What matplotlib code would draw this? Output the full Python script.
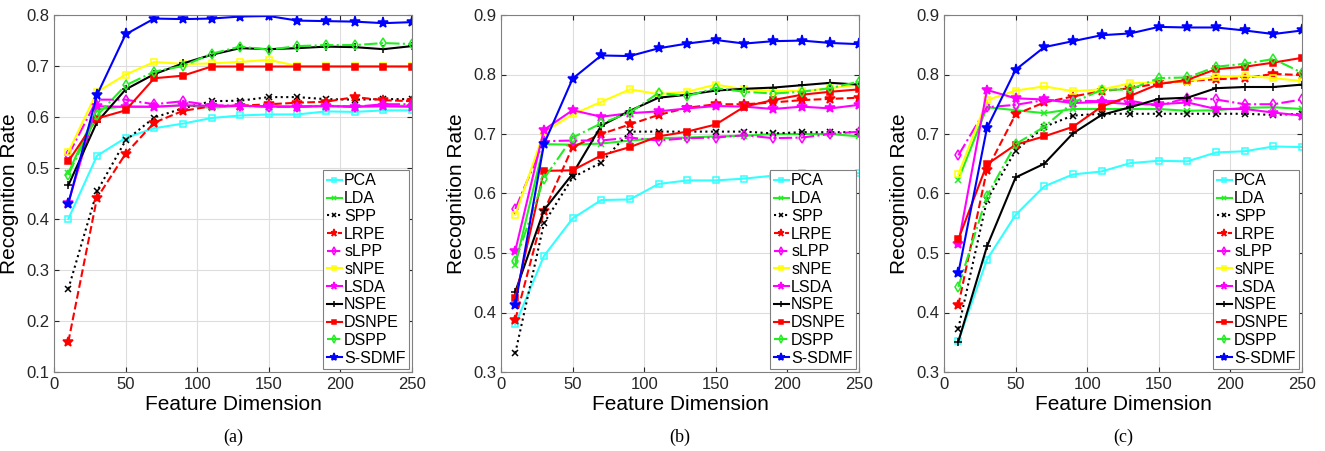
import matplotlib
matplotlib.use("Agg")
import matplotlib.pyplot as plt

plt.rcParams["font.family"] = ["Liberation Sans", "DejaVu Sans"]

dims = [10, 30, 50, 70, 90, 110, 130, 150, 170, 190, 210, 230, 250]
methods = ["PCA", "LDA", "SPP", "LRPE", "sLPP", "sNPE", "LSDA", "NSPE", "DSNPE", "DSPP", "S-SDMF"]

# (a)
a_pca   = [0.400, 0.524, 0.559, 0.578, 0.587, 0.598, 0.603, 0.605, 0.605, 0.611, 0.610, 0.613, 0.613]
a_lda   = [0.490, 0.615, 0.621, 0.620, 0.623, 0.618, 0.622, 0.620, 0.621, 0.622, 0.621, 0.622, 0.622]
a_spp   = [0.263, 0.454, 0.554, 0.599, 0.617, 0.631, 0.632, 0.639, 0.639, 0.635, 0.634, 0.635, 0.635]
a_lrpe  = [0.159, 0.441, 0.528, 0.589, 0.612, 0.621, 0.622, 0.625, 0.628, 0.630, 0.639, 0.633, 0.631]
a_slpp  = [0.525, 0.634, 0.634, 0.625, 0.631, 0.623, 0.622, 0.620, 0.620, 0.622, 0.620, 0.625, 0.625]
a_snpe  = [0.531, 0.649, 0.683, 0.708, 0.704, 0.705, 0.708, 0.712, 0.700, 0.700, 0.700, 0.700, 0.700]
a_lsda  = [0.432, 0.621, 0.620, 0.620, 0.623, 0.622, 0.622, 0.621, 0.620, 0.621, 0.620, 0.621, 0.620]
a_nspe  = [0.466, 0.590, 0.654, 0.684, 0.705, 0.722, 0.735, 0.733, 0.735, 0.738, 0.737, 0.733, 0.739]
a_dsnpe = [0.513, 0.597, 0.613, 0.676, 0.681, 0.699, 0.699, 0.699, 0.699, 0.699, 0.699, 0.699, 0.699]
a_dspp  = [0.487, 0.603, 0.662, 0.689, 0.700, 0.724, 0.738, 0.732, 0.739, 0.741, 0.741, 0.745, 0.743]
a_sdmf  = [0.430, 0.643, 0.762, 0.793, 0.792, 0.793, 0.797, 0.798, 0.789, 0.788, 0.787, 0.784, 0.786]

# (b)
b_pca   = [0.380, 0.495, 0.558, 0.589, 0.590, 0.616, 0.622, 0.622, 0.625, 0.630, 0.634, 0.633, 0.634]
b_lda   = [0.480, 0.683, 0.682, 0.684, 0.689, 0.693, 0.694, 0.696, 0.697, 0.700, 0.700, 0.700, 0.696]
b_spp   = [0.332, 0.550, 0.627, 0.652, 0.704, 0.704, 0.704, 0.704, 0.704, 0.701, 0.703, 0.703, 0.703]
b_lrpe  = [0.388, 0.570, 0.678, 0.700, 0.716, 0.732, 0.744, 0.750, 0.750, 0.753, 0.757, 0.759, 0.761]
b_slpp  = [0.574, 0.688, 0.689, 0.689, 0.694, 0.689, 0.693, 0.694, 0.698, 0.693, 0.694, 0.700, 0.704]
b_snpe  = [0.564, 0.703, 0.733, 0.754, 0.775, 0.767, 0.771, 0.783, 0.775, 0.773, 0.772, 0.777, 0.783]
b_lsda  = [0.504, 0.707, 0.740, 0.729, 0.735, 0.738, 0.743, 0.747, 0.746, 0.742, 0.746, 0.743, 0.749]
b_nspe  = [0.435, 0.572, 0.633, 0.714, 0.739, 0.761, 0.766, 0.773, 0.776, 0.778, 0.782, 0.786, 0.783]
b_dsnpe = [0.424, 0.638, 0.639, 0.664, 0.678, 0.696, 0.704, 0.716, 0.746, 0.757, 0.766, 0.771, 0.775]
b_dspp  = [0.486, 0.625, 0.694, 0.718, 0.736, 0.769, 0.764, 0.777, 0.771, 0.768, 0.771, 0.777, 0.788]
b_sdmf  = [0.413, 0.683, 0.793, 0.832, 0.831, 0.844, 0.852, 0.858, 0.852, 0.856, 0.857, 0.853, 0.851]

# (c)
c_pca   = [0.352, 0.489, 0.564, 0.612, 0.632, 0.637, 0.651, 0.655, 0.654, 0.669, 0.671, 0.679, 0.678]
c_lda   = [0.623, 0.745, 0.740, 0.735, 0.742, 0.742, 0.742, 0.742, 0.739, 0.740, 0.744, 0.745, 0.742]
c_spp   = [0.373, 0.589, 0.672, 0.712, 0.731, 0.734, 0.734, 0.734, 0.734, 0.734, 0.734, 0.732, 0.734]
c_lrpe  = [0.412, 0.640, 0.733, 0.753, 0.763, 0.772, 0.777, 0.785, 0.789, 0.792, 0.794, 0.801, 0.799]
c_slpp  = [0.664, 0.745, 0.749, 0.757, 0.756, 0.755, 0.756, 0.747, 0.761, 0.758, 0.750, 0.750, 0.758]
c_snpe  = [0.632, 0.757, 0.773, 0.780, 0.772, 0.775, 0.785, 0.787, 0.789, 0.796, 0.798, 0.794, 0.789]
c_lsda  = [0.515, 0.774, 0.760, 0.758, 0.752, 0.754, 0.750, 0.750, 0.753, 0.742, 0.742, 0.736, 0.731]
c_nspe  = [0.351, 0.511, 0.627, 0.650, 0.701, 0.732, 0.745, 0.759, 0.761, 0.777, 0.779, 0.779, 0.783]
c_dsnpe = [0.523, 0.649, 0.682, 0.696, 0.712, 0.746, 0.764, 0.784, 0.791, 0.809, 0.813, 0.820, 0.828]
c_dspp  = [0.443, 0.596, 0.683, 0.712, 0.753, 0.774, 0.775, 0.794, 0.795, 0.813, 0.818, 0.826, 0.803]
c_sdmf  = [0.466, 0.710, 0.808, 0.846, 0.856, 0.866, 0.869, 0.880, 0.879, 0.879, 0.874, 0.868, 0.874]

panels = [
    ([a_pca, a_lda, a_spp, a_lrpe, a_slpp, a_snpe, a_lsda, a_nspe, a_dsnpe, a_dspp, a_sdmf], (0.1, 0.8), "(a)"),
    ([b_pca, b_lda, b_spp, b_lrpe, b_slpp, b_snpe, b_lsda, b_nspe, b_dsnpe, b_dspp, b_sdmf], (0.3, 0.9), "(b)"),
    ([c_pca, c_lda, c_spp, c_lrpe, c_slpp, c_snpe, c_lsda, c_nspe, c_dsnpe, c_dspp, c_sdmf], (0.3, 0.9), "(c)"),
]

# color, linestyle, marker, filled, markersize
styles = [
    ("#33ffff", "-", "s", False, 4.5),
    ("#22ee22", "-", "x", True, 4.5),
    ("black", ":", "x", True, 4.5),
    ("red", "--", "*", True, 7),
    ("magenta", "-.", "d", False, 5),
    ("#ffff00", "-", "s", False, 4.5),
    ("magenta", "-", "*", True, 7),
    ("black", "-", "+", True, 6),
    ("red", "-", "s", True, 4.5),
    ("#22ee22", "-.", "d", False, 5),
    ("blue", "-", "*", True, 8),
]

fig = plt.figure(figsize=(13.25, 4.51), dpi=100)
lefts = [54, 501, 944]
for i, (series, ylim, cap) in enumerate(panels):
    ax = fig.add_axes([lefts[i] / 1325, 79 / 451, 358 / 1325, 357 / 451])
    for name, vals, (col, ls, mk, filled, ms) in zip(methods, series, styles):
        ax.plot(dims, vals, color=col, linestyle=ls, marker=mk, markersize=ms,
                linewidth=1.5, markerfacecolor=col if filled else "none",
                markeredgecolor=col, markeredgewidth=1.1, label=name)
    ax.set_xlim(0, 250)
    ax.set_ylim(*ylim)
    ax.set_xticks([0, 50, 100, 150, 200, 250])
    ax.grid(True, color="#dddddd", linewidth=0.8)
    ax.set_axisbelow(True)
    ax.tick_params(direction="in", top=True, right=True, labelsize=12, colors="#262626")
    for sp in ax.spines.values():
        sp.set_color("#808080")
    ax.set_xlabel("Feature Dimension", fontsize=15, labelpad=2)
    ax.set_ylabel("Recognition Rate", fontsize=15, labelpad=5)
    leg = ax.legend(loc="lower right", fontsize=11.5, handlelength=0.95, handletextpad=0.15,
                    labelspacing=0.17, borderpad=0.2, borderaxespad=0.2,
                    fancybox=False, framealpha=1, edgecolor="#808080", markerscale=0.75)
    leg.get_frame().set_linewidth(0.8)
    fig.text((lefts[i] + 179) / 1325, 1 - 437 / 451, cap, ha="center", va="center",
             fontsize=13, family="Liberation Serif")

fig.savefig("out.png", dpi=100)
